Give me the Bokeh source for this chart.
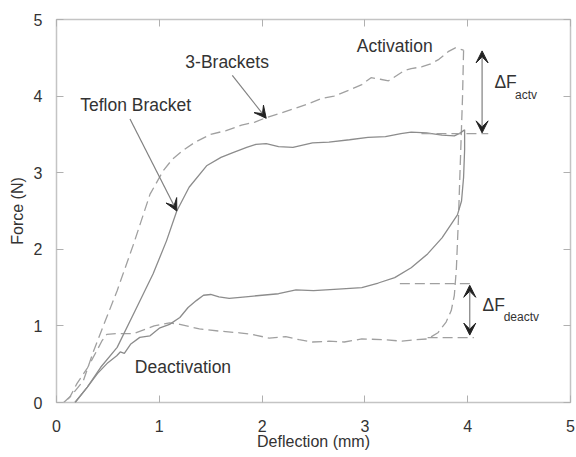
from bokeh.plotting import figure
from bokeh.models import Range1d, LinearAxis, Label, Arrow, VeeHead, FixedTicker
from bokeh.embed import file_html
from bokeh.resources import INLINE

# ---- data ----
brackets_load_x = [0.07, 0.15, 0.26, 0.36, 0.47, 0.59, 0.75, 0.91, 1.04, 1.13, 1.23, 1.35, 1.5, 1.65,
                   1.8, 1.93, 2.04, 2.16, 2.3, 2.45, 2.58, 2.7, 2.85, 2.97, 3.06, 3.15, 3.23, 3.38,
                   3.45, 3.55, 3.64, 3.72, 3.81, 3.88, 3.93, 3.96]
brackets_load_y = [0.0, 0.1, 0.28, 0.67, 1.05, 1.46, 2.07, 2.72, 3.03, 3.18, 3.29, 3.4, 3.5, 3.55,
                   3.62, 3.66, 3.72, 3.77, 3.83, 3.9, 3.97, 4.0, 4.08, 4.15, 4.24, 4.22, 4.2, 4.33,
                   4.36, 4.38, 4.42, 4.48, 4.58, 4.63, 4.61, 4.6]

brackets_unload_x = [3.96, 3.95, 3.93, 3.91, 3.89, 3.87, 3.84, 3.79, 3.71, 3.61, 3.5, 3.36, 3.2, 2.97,
                     2.8, 2.65, 2.49, 2.36, 2.23, 2.07, 1.9, 1.78, 1.6, 1.39, 1.2, 1.1, 0.95, 0.75,
                     0.6, 0.49, 0.44, 0.39, 0.3, 0.2, 0.13, 0.07]
brackets_unload_y = [4.6, 4.0, 3.2, 2.4, 1.75, 1.4, 1.2, 1.05, 0.91, 0.83, 0.82, 0.8, 0.82, 0.83,
                     0.79, 0.8, 0.79, 0.82, 0.86, 0.84, 0.89, 0.91, 0.93, 0.96, 1.02, 1.04, 1.0, 0.9,
                     0.9, 0.89, 0.8, 0.67, 0.45, 0.25, 0.07, 0.0]

teflon_load_x = [0.18, 0.3, 0.43, 0.59, 0.78, 0.94, 1.07, 1.17, 1.29, 1.46, 1.6, 1.71, 1.85, 1.94,
                 2.04, 2.16, 2.3, 2.49, 2.65, 2.85, 3.03, 3.2, 3.35, 3.45, 3.6, 3.75, 3.87, 3.93, 3.97]
teflon_load_y = [0.0, 0.2, 0.46, 0.72, 1.24, 1.68, 2.11, 2.5, 2.81, 3.09, 3.2, 3.26, 3.33, 3.37,
                 3.38, 3.34, 3.33, 3.39, 3.40, 3.43, 3.46, 3.47, 3.51, 3.53, 3.52, 3.49, 3.48, 3.52, 3.56]

teflon_unload_x = [3.97, 3.97, 3.96, 3.94, 3.9, 3.84, 3.75, 3.61, 3.45, 3.29, 3.13, 2.97, 2.74, 2.5,
                   2.33, 2.16, 2.0, 1.84, 1.68, 1.58, 1.5, 1.43, 1.36, 1.28, 1.2, 1.1, 1.0, 0.91,
                   0.81, 0.72, 0.66, 0.62, 0.586, 0.5, 0.4, 0.3, 0.18]
teflon_unload_y = [3.56, 3.3, 2.94, 2.63, 2.45, 2.33, 2.15, 1.94, 1.76, 1.63, 1.56, 1.50, 1.48, 1.46,
                   1.47, 1.42, 1.40, 1.38, 1.36, 1.38, 1.41, 1.40, 1.33, 1.24, 1.11, 1.02, 0.97, 0.87,
                   0.85, 0.76, 0.64, 0.66, 0.61, 0.52, 0.38, 0.2, 0.0]

# reference levels for the force differences
actv_ref_x = [3.55, 4.2]
actv_ref_y = [3.51, 3.51]
deactv_top_x = [3.34, 4.05]
deactv_top_y = [1.553, 1.553]
deactv_bot_x = [3.61, 4.06]
deactv_bot_y = [0.847, 0.847]

ticks = [0, 1, 2, 3, 4, 5]

FONT = "Liberation Sans"
TXT = "#333333"
SOLID = "#8c8c8c"
DASH = "#a0a0a0"

p = figure(width=576, height=457, output_backend="svg", toolbar_location=None,
           x_range=Range1d(0, 5), y_range=Range1d(0, 5),
           min_border_left=56, min_border_right=6, min_border_top=19, min_border_bottom=55)
p.grid.visible = False
p.outline_line_color = "#c4c4c4"
p.outline_line_width = 1.5
p.background_fill_color = "white"
p.border_fill_color = "white"

for ax in (p.xaxis[0], p.yaxis[0]):
    ax.ticker = FixedTicker(ticks=ticks)
    ax.major_tick_in = 7
    ax.major_tick_out = 0
    ax.minor_tick_line_color = None
    ax.major_tick_line_color = "#b0b0b0"
    ax.axis_line_color = None
    ax.major_label_text_font = FONT
    ax.major_label_text_font_size = "16px"
    ax.major_label_text_color = TXT
    ax.axis_label_text_font = FONT
    ax.axis_label_text_font_size = "16px"
    ax.axis_label_text_font_style = "normal"
    ax.axis_label_text_color = TXT

p.xaxis.axis_label = "Deflection (mm)"
p.yaxis.axis_label = "Force (N)"
p.xaxis.major_label_standoff = 17
p.xaxis.axis_label_standoff = -2
p.yaxis.major_label_standoff = 14
p.yaxis.axis_label_standoff = 5

# mirror ticks on top and right (no labels)
for loc in ("above", "right"):
    ax = LinearAxis(ticker=FixedTicker(ticks=ticks), major_tick_in=7, major_tick_out=0,
                    minor_tick_line_color=None, major_tick_line_color="#b0b0b0",
                    axis_line_color=None, major_label_text_font_size="1px",
                    major_label_text_color=None, major_label_standoff=0)
    p.add_layout(ax, loc)

# curves
p.line(brackets_load_x, brackets_load_y, line_color=DASH, line_width=1.3, line_dash="10 5")
p.line(brackets_unload_x, brackets_unload_y, line_color=DASH, line_width=1.3, line_dash="10 5")
p.line(teflon_load_x, teflon_load_y, line_color=SOLID, line_width=1.3)
p.line(teflon_unload_x, teflon_unload_y, line_color=SOLID, line_width=1.3)

# reference dashed levels
for xs, ys in ((actv_ref_x, actv_ref_y), (deactv_top_x, deactv_top_y), (deactv_bot_x, deactv_bot_y)):
    p.line(xs, ys, line_color=DASH, line_width=1.3, line_dash="10 5")

# delta-F arrows
def head():
    return VeeHead(size=12, fill_color="#222222", line_color="#222222", line_width=1)

p.add_layout(Arrow(start=head(), end=head(), x_start=4.14, y_start=3.52, x_end=4.14, y_end=4.59,
                   line_color="#808080", line_width=1.2))
p.add_layout(Arrow(start=head(), end=head(), x_start=4.02, y_start=0.88, x_end=4.02, y_end=1.53,
                   line_color="#808080", line_width=1.2))

# label arrows
p.add_layout(Arrow(end=head(), x_start=1.71, y_start=4.27, x_end=2.04, y_end=3.71,
                   line_color="#808080", line_width=1.2))
p.add_layout(Arrow(end=head(), x_start=0.715, y_start=3.70, x_end=1.17, y_end=2.50,
                   line_color="#808080", line_width=1.2))

def lab(x, y, t, size="17.5px", align="center"):
    p.add_layout(Label(x=x, y=y, text=t, text_font=FONT, text_font_size=size, text_color=TXT,
                       text_align=align, text_baseline="middle"))

lab(3.29, 4.66, "Activation")
lab(1.66, 4.45, "3-Brackets")
lab(0.77, 3.88, "Teflon Bracket")
lab(1.23, 0.46, "Deactivation")
lab(4.26, 4.19, "\u0394F", align="left")
lab(4.46, 4.02, "actv", size="12px", align="left")
lab(4.145, 1.27, "\u0394F", align="left")
lab(4.35, 1.12, "deactv", size="12px", align="left")

open("out.html", "w").write(file_html(p, INLINE))
